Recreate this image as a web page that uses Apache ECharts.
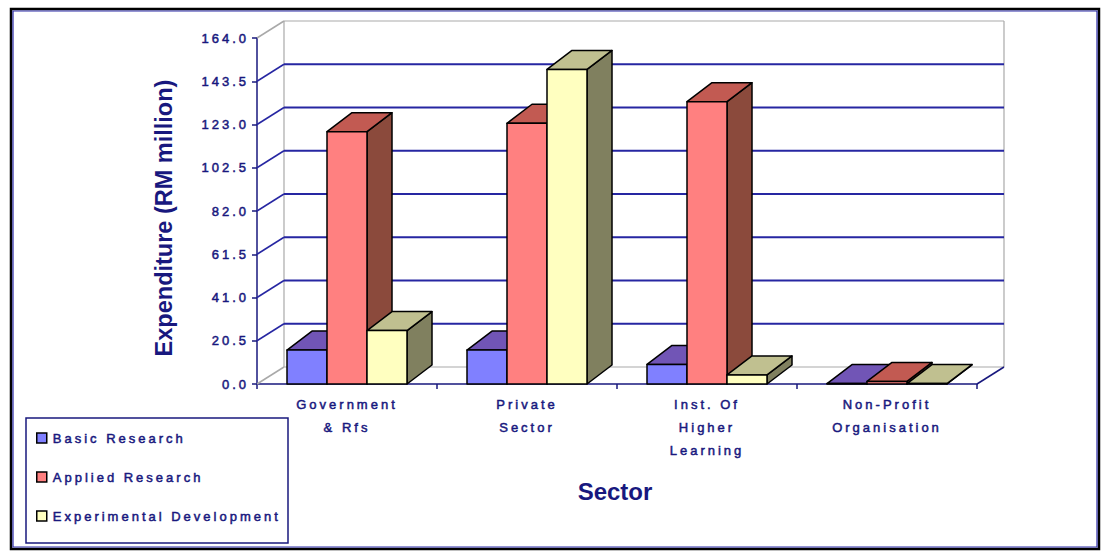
<!DOCTYPE html>
<html>
<head>
<meta charset="utf-8">
<script src="https://cdn.jsdelivr.net/npm/echarts@6/dist/echarts.min.js"></script>
<style>
  html, body { margin: 0; padding: 0; background: #ffffff; }
  #chart { width: 1103px; height: 553px; }
  /* wide bitmap-style spacing for the small labels, none for the bold titles */
  #chart text { letter-spacing: 3px; }
  #chart text[style*="bold"] { letter-spacing: 0; }
</style>
</head>
<body>
<div id="chart"></div>
<script>
// Expenditure by sector and type of research (RM million)
const categories = ['Government\n& Rfs', 'Private\nSector', 'Inst. Of\nHigher\nLearning', 'Non-Profit\nOrganisation'];
const seriesNames = ['Basic Research', 'Applied Research', 'Experimental Development'];
const basicResearch = [16.1, 16.1, 9.3, 0.2];
const appliedResearch = [119.6, 123.6, 133.8, 1.2];
const experimentalDevelopment = [25.3, 149.1, 4.3, 0.2];
const yTicks = [0, 20.5, 41, 61.5, 82, 102.5, 123, 143.5, 164];

const Y_MAX = 164, Y_STEP = 20.5;
const NAVY = '#18187e';
const GRID_BLUE = '#2626a2';
const GRAY = '#a9a9a9';
const FONT = '"Liberation Sans", Arial, sans-serif';

// small label text: slightly heavier strokes
const labelText = { color: NAVY, fontSize: 13, fontFamily: FONT, textBorderColor: NAVY, textBorderWidth: 0.5 };

// 3-D depth offsets: the back wall and the bar depth
const WALL_DX = 27, WALL_DY = -17;
const BAR_DX = 25, BAR_DY = -19;

const faces = [
  { front: '#8080ff', top: '#7155b6', side: '#4a4a9a' },
  { front: '#ff8080', top: '#c25a52', side: '#8b4a3c' },
  { front: '#ffffc0', top: '#c0c090', side: '#80805f' }
];

function makeBarRenderer(k) {
  return function (params, api) {
    const c = api.value(0), v = api.value(1);
    const base = api.coord([c, 0]);
    const topPt = api.coord([c, v]);
    const band = api.size([1, 0])[0];
    const bw = band * 2 / 9;
    const x0 = base[0] - 1.5 * bw + k * bw, x1 = x0 + bw;
    const yb = base[1], yt = topPt[1];
    const f = faces[k];
    const edge = { stroke: '#000', lineWidth: 1.5, lineJoin: 'round' };
    return {
      type: 'group',
      children: [
        { type: 'polygon', shape: { points: [[x1, yt], [x1 + BAR_DX, yt + BAR_DY], [x1 + BAR_DX, yb + BAR_DY], [x1, yb]] },
          style: Object.assign({ fill: f.side }, edge) },
        { type: 'polygon', shape: { points: [[x0, yt], [x1, yt], [x1 + BAR_DX, yt + BAR_DY], [x0 + BAR_DX, yt + BAR_DY]] },
          style: Object.assign({ fill: f.top }, edge) },
        { type: 'rect', shape: { x: x0, y: yt, width: bw, height: yb - yt },
          style: Object.assign({ fill: f.front }, edge) }
      ]
    };
  };
}

// side wall and back wall gridlines, one item per value tick
function renderFrame(params, api) {
  const cs = params.coordSys;
  const v = api.value(1);
  const y = api.coord([0, v])[1];
  const L = cs.x, R = cs.x + cs.width;
  const isEdge = v === 0 || v === Y_MAX;
  const col = isEdge ? GRAY : GRID_BLUE;
  const children = [
    { type: 'line', shape: { x1: L, y1: y, x2: L + WALL_DX, y2: y + WALL_DY }, style: { stroke: col, lineWidth: 1.5 } },
    { type: 'line', shape: { x1: L + WALL_DX, y1: y + WALL_DY, x2: R + WALL_DX, y2: y + WALL_DY }, style: { stroke: col, lineWidth: isEdge ? 1.2 : 2 } }
  ];
  if (v === 0) {
    const yTop = api.coord([0, Y_MAX])[1];
    children.push(
      { type: 'line', shape: { x1: L + WALL_DX, y1: y + WALL_DY, x2: L + WALL_DX, y2: yTop + WALL_DY }, style: { stroke: GRAY, lineWidth: 1.2 } },
      { type: 'line', shape: { x1: R + WALL_DX, y1: y + WALL_DY, x2: R + WALL_DX, y2: yTop + WALL_DY }, style: { stroke: GRAY, lineWidth: 1.2 } },
      { type: 'line', shape: { x1: R, y1: y, x2: R + WALL_DX, y2: y + WALL_DY }, style: { stroke: NAVY, lineWidth: 1.5 } }
    );
  }
  return { type: 'group', children: children };
}

const chart = echarts.init(document.getElementById('chart'), null, { renderer: 'svg' });

const barSeries = [basicResearch, appliedResearch, experimentalDevelopment].map(function (vals, k) {
  return {
    type: 'custom',
    name: seriesNames[k],
    renderItem: makeBarRenderer(k),
    encode: { x: 0, y: 1 },
    clip: false,
    z: 3,
    itemStyle: { color: faces[k].front },
    data: vals.map(function (v, i) { return [i, v]; })
  };
});

chart.setOption({
  animation: false,
  backgroundColor: '#ffffff',
  grid: { left: 257, top: 38, width: 720, height: 346, outerBoundsMode: 'none', containLabel: false },
  xAxis: {
    type: 'category',
    data: categories,
    axisLine: { show: true, lineStyle: { color: NAVY, width: 1.5 } },
    axisTick: { show: true, length: 5, lineStyle: { color: NAVY, width: 1.5 } },
    axisLabel: Object.assign({ interval: 0, lineHeight: 23, margin: 9 }, labelText),
    splitLine: { show: false }
  },
  yAxis: {
    type: 'value',
    min: 0,
    max: Y_MAX,
    interval: Y_STEP,
    axisLine: { show: true, lineStyle: { color: NAVY, width: 1.5 } },
    axisTick: { show: true, length: 5, lineStyle: { color: NAVY, width: 1.5 } },
    axisLabel: Object.assign({ margin: 8, formatter: function (v) { return v.toFixed(1); } }, labelText),
    splitLine: { show: false }
  },
  legend: {
    orient: 'vertical',
    left: 31,
    top: 426,
    itemWidth: 10,
    itemHeight: 10,
    itemGap: 25,
    icon: 'rect',
    selectedMode: false,
    itemStyle: { borderColor: '#000', borderWidth: 1.5 },
    textStyle: Object.assign({ lineHeight: 14, padding: [0, 0, 0, 1] }, labelText),
    data: seriesNames
  },
  graphic: [
    { type: 'rect', shape: { x: 11, y: 9, width: 1088, height: 540 }, style: { fill: 'none', stroke: '#000', lineWidth: 2.5 }, z: 10 },
    { type: 'rect', shape: { x: 13, y: 11, width: 1084, height: 536 }, style: { fill: 'none', stroke: '#2a2aa8', lineWidth: 1.2 }, z: 10 },
    { type: 'rect', shape: { x: 26, y: 418, width: 262, height: 125 }, style: { fill: 'none', stroke: NAVY, lineWidth: 1.5 }, z: 10 },
    { type: 'text', x: 164, y: 218, rotation: Math.PI / 2,
      style: { text: 'Expenditure (RM million)', fill: NAVY, fontSize: 23.5, fontWeight: 'bold', fontFamily: FONT, align: 'center', verticalAlign: 'middle' } },
    { type: 'text', x: 615, y: 491,
      style: { text: 'Sector', fill: NAVY, fontSize: 24, fontWeight: 'bold', fontFamily: FONT, align: 'center', verticalAlign: 'middle' } }
  ],
  series: [
    {
      type: 'custom',
      name: 'frame',
      renderItem: renderFrame,
      encode: { x: 0, y: 1 },
      clip: false,
      silent: true,
      z: 1,
      data: yTicks.map(function (v) { return [0, v]; })
    }
  ].concat(barSeries)
});
</script>
</body>
</html>
